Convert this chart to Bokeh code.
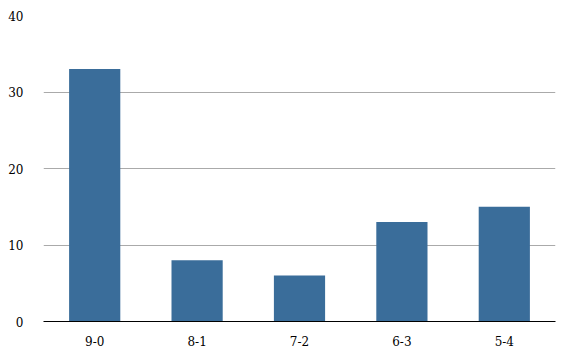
from bokeh.plotting import figure
from bokeh.models import Range1d, FixedTicker
from bokeh.embed import file_html
from bokeh.resources import INLINE

categories = ["9-0", "8-1", "7-2", "6-3", "5-4"]
counts = [33, 8, 6, 13, 15]
y_ticks = [0, 10, 20, 30, 40]

p = figure(x_range=categories, y_range=Range1d(0, 40), width=580, height=360,
           output_backend="svg", toolbar_location=None,
           min_border_left=43, min_border_right=25, min_border_top=15, min_border_bottom=39)
p.vbar(x=categories, top=counts, width=0.5, color="#3a6d9a", line_color=None)

p.outline_line_color = None
p.xgrid.grid_line_color = None
p.ygrid.grid_line_color = "#aaaaaa"
p.ygrid.grid_line_width = 1
p.yaxis.ticker = FixedTicker(ticks=y_ticks)

p.yaxis.axis_line_color = None
p.yaxis.major_tick_line_color = None
p.yaxis.minor_tick_line_color = None
p.yaxis.major_label_standoff = 14

p.xaxis.axis_line_color = "black"
p.xaxis.axis_line_width = 1
p.xaxis.major_tick_line_color = None
p.xaxis.minor_tick_line_color = None
p.xaxis.major_label_standoff = 8

for ax in (p.xaxis, p.yaxis):
    ax.major_label_text_font = "DejaVu Serif"
    ax.major_label_text_font_size = "12px"
    ax.major_label_text_font_style = "normal"
    ax.major_label_text_color = "black"

open("out.html", "w").write(file_html(p, INLINE))
